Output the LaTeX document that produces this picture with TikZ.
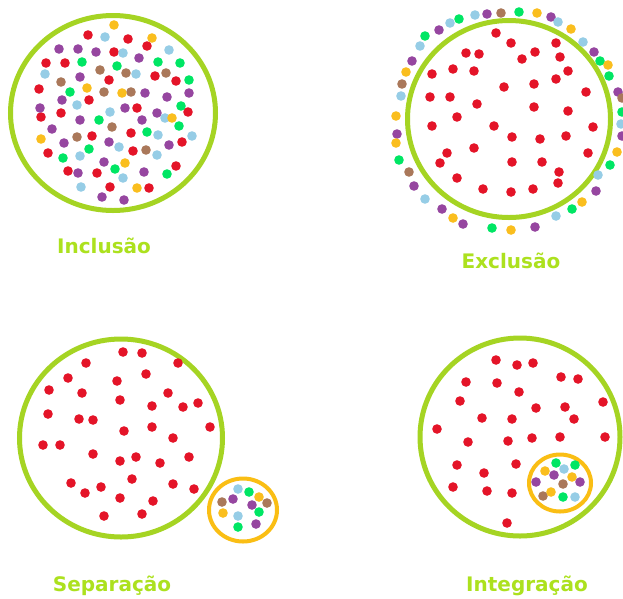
\documentclass[tikz,border=0pt]{standalone}
\usepackage{fontspec}
\newfontfamily\labelfont{DejaVu Sans}
\definecolor{ringgreen}{RGB}{165,212,35}
\definecolor{textgreen}{RGB}{172,225,30}
\definecolor{ringorange}{RGB}{250,190,20}
\definecolor{dotred}{RGB}{228,20,40}
\definecolor{dotpurple}{RGB}{150,70,160}
\definecolor{dotblue}{RGB}{150,205,230}
\definecolor{dotgreen}{RGB}{0,230,100}
\definecolor{dotbrown}{RGB}{170,120,90}
\definecolor{dotorange}{RGB}{250,190,30}
\begin{document}
\begin{tikzpicture}[x=1pt,y=-1pt,
  ring/.style={draw=ringgreen,line width=5pt},
  smallring/.style={draw=ringorange,line width=4pt},
  caption/.style={text=textgreen,font=\labelfont\bfseries\fontsize{20}{20}\selectfont}]
\useasboundingbox[fill=white] (0,0) rectangle (623,598);
% Inclusao
\draw[ring] (113,113) ellipse (102.5pt and 97.5pt);
\foreach \x/\y in {88/35,128/39,147/46,114/52,46/63,65/63,155/76,176/81,109/80,39/89,89/100,61/113,41/117,137/108,188/112,131/133,92/136,182/142,133/151,48/153,176/166,68/171,97/173,110/187,149/188}
  \fill[dotred] (\x,\y) circle (4.8pt);
\foreach \x/\y in {59/49,78/49,96/52,139/58,80/77,145/93,167/97,189/93,62/100,40/108,125/108,157/113,80/120,142/120,52/129,64/143,109/142,169/145,104/162,78/173,144/172,102/197,124/200}
  \fill[dotpurple] (\x,\y) circle (4.8pt);
\foreach \x/\y in {105/37,123/53,169/50,45/74,136/74,77/105,110/112,165/118,158/135,192/136,119/147,80/156,157/155,123/178,81/187}
  \fill[dotblue] (\x,\y) circle (4.8pt);
\foreach \x/\y in {82/62,117/66,158/62,180/63,189/80,70/92,181/106,99/120,179/126,147/132,89/149,63/158,115/169,167/174}
  \fill[dotgreen] (\x,\y) circle (4.8pt);
\foreach \x/\y in {100/70,126/73,166/73,61/82,104/92,131/92,112/127,77/137,146/150}
  \fill[dotbrown] (\x,\y) circle (4.8pt);
\foreach \x/\y in {114/25,152/38,87/88,122/93,172/118,41/139,125/163,137/188}
  \fill[dotorange] (\x,\y) circle (4.8pt);
\node[caption] (inclusao) at (104,246) {Inclusão};
% Exclusao
\draw[ring] (509,119) ellipse (101.5pt and 98.5pt);
\foreach \x/\y in {496/33,511/43,556/43,466/53,479/54,535/52,522/59,560/57,432/74,453/69,474/71,568/71,556/79,504/87,534/84,586/92,430/97,450/97,477/104,534/107,568/111,457/117,432/126,494/126,593/127,512/137,540/139,566/136,447/153,474/148,588/153,440/163,512/162,542/162,559/172,457/178,558/183,483/189,511/192,533/189}
  \fill[dotred] (\x,\y) circle (4.8pt);
\foreach \x/\y in {487/14,551/17,439/30,594/52,412/61,618/92,397/134,622/136,414/186,596/191,442/209,463/224,535/227}
  \fill[dotpurple] (\x,\y) circle (4.8pt);
\foreach \x/\y in {475/15,558/22,450/23,420/46,583/42,401/96,621/124,598/175,425/199,556/216}
  \fill[dotblue] (\x,\y) circle (4.8pt);
\foreach \x/\y in {519/12,459/19,425/36,600/61,609/76,622/112,399/160,610/165,572/209,492/228}
  \fill[dotgreen] (\x,\y) circle (4.8pt);
\foreach \x/\y in {501/13,402/84,622/98,409/172}
  \fill[dotbrown] (\x,\y) circle (4.8pt);
\foreach \x/\y in {537/13,571/29,608/65,406/72,396/116,396/143,617/152,582/202,453/218,511/230}
  \fill[dotorange] (\x,\y) circle (4.8pt);
\node[caption] (exclusao) at (511,261) {Exclusão};
% Separacao
\draw[ring] (121,438) ellipse (101.5pt and 99pt);
\foreach \x/\y in {123/352,142/353,86/363,178/363,146/374,68/378,117/381,49/390,82/393,168/393,120/400,152/406,183/407,198/403,48/414,79/419,93/420,210/427,152/427,124/431,173/438,43/445,60/445,93/454,136/457,120/461,160/463,189/457,132/479,71/483,101/487,173/484,194/489,85/493,120/498,153/501,104/516,142/514}
  \fill[dotred] (\x,\y) circle (4.8pt);
\draw[smallring] (243,510) ellipse (34pt and 31.5pt);
\foreach \x/\y/\c in {238/489/dotblue,249/492/dotgreen,222/502/dotbrown,233/499/dotpurple,259/497/dotorange,252/505/dotpurple,267/503/dotbrown,223/513/dotorange,238/516/dotblue,259/512/dotgreen,238/527/dotgreen,256/524/dotpurple}
  \fill[\c] (\x,\y) circle (4.8pt);
\node[caption] (separacao) at (112,586) {Separação};
% Integracao
\draw[ring] (520,437) ellipse (100pt and 99pt);
\foreach \x/\y in {496/360,517/365,533/363,561/377,578/379,466/382,497/383,519/392,460/401,603/402,536/408,565/407,482/418,512/419,574/419,437/429,468/442,508/441,532/438,560/437,605/437,457/465,516/464,484/473,453/487,487/491,512/493,507/523}
  \fill[dotred] (\x,\y) circle (4.8pt);
\draw[smallring] (560,483) ellipse (31pt and 28.5pt);
\foreach \x/\y/\c in {556/463/dotgreen,575/465/dotgreen,545/471/dotorange,564/469/dotblue,554/475/dotpurple,572/477/dotorange,536/482/dotpurple,563/484/dotbrown,580/482/dotpurple,543/496/dotbrown,551/492/dotorange,563/497/dotgreen,575/497/dotblue}
  \fill[\c] (\x,\y) circle (4.8pt);
\node[caption] (integracao) at (527,586) {Integração};
\end{tikzpicture}
\end{document}
